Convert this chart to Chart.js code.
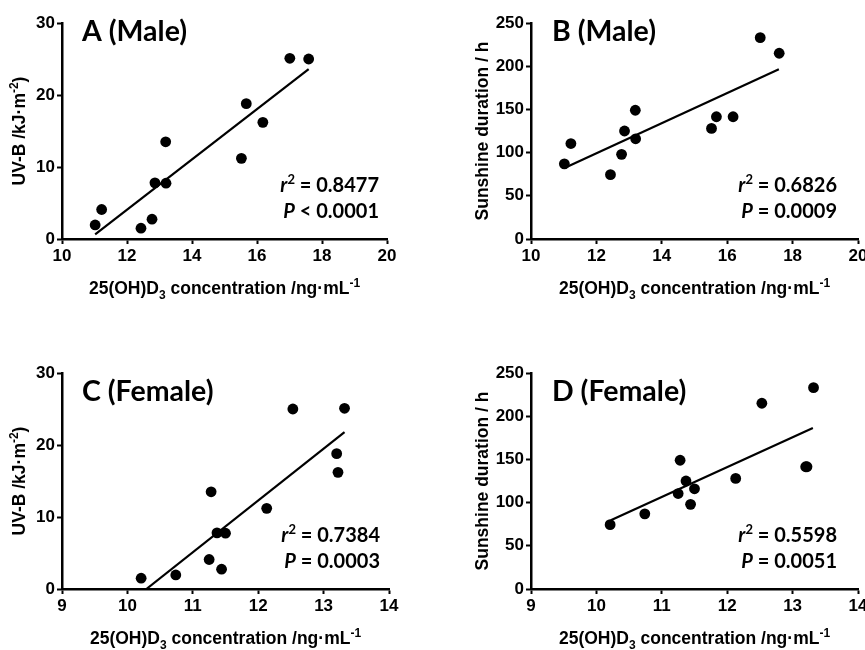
<!DOCTYPE html>
<html>
<head>
<meta charset="utf-8">
<script src="https://cdn.jsdelivr.net/npm/chart.js@4/dist/chart.umd.min.js"></script>
<style>
html,body{margin:0;padding:0;background:#fff;overflow:hidden;width:865px;height:650px}
canvas{position:absolute;display:block}
</style>
</head>
<body>
<canvas id="cA" width="432" height="325" style="left:0;top:0"></canvas>
<canvas id="cB" width="450" height="325" style="left:432px;top:0"></canvas>
<canvas id="cC" width="432" height="325" style="left:0;top:325px"></canvas>
<canvas id="cD" width="450" height="325" style="left:432px;top:325px"></canvas>
<script>
// ---------- data ----------
const maleVitD   = [11.02, 11.22, 12.43, 12.77, 12.86, 13.20, 13.19, 15.52, 15.67, 16.18, 17.01, 17.59];
const femaleVitD = [10.74, 11.25, 10.21, 11.44, 11.37, 11.50, 11.28, 12.13, 13.20, 13.22, 13.32, 12.53];
const uvbValues      = [1.95, 4.1, 1.5, 2.75, 7.8, 7.75, 13.5, 11.2, 18.8, 16.2, 25.1, 25.0];
const sunshineValues = [87, 110.5, 74.5, 98, 125, 116, 149, 128, 141.5, 141.5, 233, 215];

const fitA_x = [11.02, 17.59], fitA_y = [0.65, 23.6];
const fitB_x = [11.04, 17.58], fitB_y = [82.6, 196.5];
const fitC_x = [10.29, 13.32], fitC_y = [0, 21.8];
const fitD_x = [10.22, 13.31], fitD_y = [79.5, 186.3];

const xTicksMale   = [10, 12, 14, 16, 18, 20];
const xTicksFemale = [9, 10, 11, 12, 13, 14];
const yTicksUVB    = [0, 10, 20, 30];
const yTicksSun    = [0, 50, 100, 150, 200, 250];

const panelTitles = ['A (Male)', 'B (Male)', 'C (Female)', 'D (Female)'];
const r2Values    = ['0.8477', '0.6826', '0.7384', '0.5598'];
const pTexts      = ['< 0.0001', '= 0.0009', '= 0.0003', '= 0.0051'];

const xTitleSegs = [{t:'25(OH)D'},{t:'3',sub:true},{t:' concentration /ng\u00B7mL'},{t:'-1',sup:true}];
const yTitleUVB  = [{t:'UV-B /kJ\u00B7m'},{t:'-2',sup:true},{t:')'}];
const yTitleSun  = [{t:'Sunshine duration / h'}];

// ---------- helpers ----------
const AX_FAMILY = "'Liberation Sans', Arial, sans-serif";
const LAB_FAMILY = "Lato, 'Open Sans', sans-serif";
const TITLE_SIZE = 17.5;

function pts(xs, ys){ return xs.map((x,i)=>({x:x, y:ys[i]})); }

function segFont(s, size, family){
  const sz = (s.sub||s.sup) ? Math.round(size*0.66) : size;
  return (s.italic ? 'italic ' : '') + 'bold ' + sz + 'px ' + family;
}
function drawRich(ctx, segs, x, y, align, size, family){
  let w = 0;
  segs.forEach(s=>{ ctx.font = segFont(s,size,family); s._w = ctx.measureText(s.t).width; w += s._w; });
  let cx = align==='center' ? x - w/2 : (align==='right' ? x - w : x);
  ctx.textAlign = 'left'; ctx.textBaseline = 'alphabetic'; ctx.fillStyle = '#000';
  segs.forEach(s=>{
    ctx.font = segFont(s,size,family);
    const dy = s.sub ? size*0.28 : (s.sup ? -size*0.42 : 0);
    ctx.fillText(s.t, cx, y + dy);
    cx += s._w;
  });
}

const panelTextPlugin = {
  id: 'panelText',
  afterDraw(chart, args, o){
    const ctx = chart.ctx, ca = chart.chartArea;
    ctx.save();
    drawRich(ctx, [{t:o.title}], ca.left + o.titleDX, ca.top + o.titleDY, 'left', 28.5, LAB_FAMILY);
    drawRich(ctx, [{t:'r',italic:true},{t:'2',sup:true},{t:' = ' + o.r2}], ca.right - o.statsDX, ca.top + 169, 'right', 20, LAB_FAMILY);
    drawRich(ctx, [{t:'P',italic:true},{t:' ' + o.p}], ca.right - o.statsDX, ca.top + 195, 'right', 20, LAB_FAMILY);
    drawRich(ctx, xTitleSegs, (ca.left + ca.right)/2, ca.bottom + 55, 'center', TITLE_SIZE, AX_FAMILY);
    ctx.translate(ca.left - o.yTitleDX, (ca.top + ca.bottom)/2);
    ctx.rotate(-Math.PI/2);
    drawRich(ctx, o.yTitle, 0, 6.3, 'center', TITLE_SIZE, AX_FAMILY);
    ctx.restore();
  }
};

function makePanel(id, cfg){
  const tickFont = {family: AX_FAMILY, size: 17, weight: 'bold'};
  const gridCfg = {display:true, drawOnChartArea:false, drawTicks:true, tickLength:5, tickWidth:2, tickColor:'#000', color:'#000'};
  new Chart(document.getElementById(id), {
    type: 'scatter',
    data: {
      datasets: [
        {data: pts(cfg.xs, cfg.ys), pointRadius: 5.4, pointHoverRadius: 5.4, backgroundColor:'#000', borderColor:'#000', borderWidth:0, showLine:false, order:1},
        {type:'line', data: pts(cfg.fx, cfg.fy), borderColor:'#000', borderWidth:2.2, pointRadius:0, fill:false, showLine:true, order:2}
      ]
    },
    options: {
      responsive: false,
      animation: false,
      events: [],
      layout: {padding: {left:0, top:cfg.padTop, right:cfg.padRight, bottom:0}},
      plugins: {
        legend: {display:false},
        tooltip: {enabled:false},
        panelText: cfg.text
      },
      scales: {
        x: {
          type:'linear', min: cfg.xTicks[0], max: cfg.xTicks[cfg.xTicks.length-1],
          ticks: {stepSize: cfg.xTicks[1]-cfg.xTicks[0], font: tickFont, color:'#000', padding:2, maxRotation:0, autoSkip:false},
          grid: gridCfg,
          border: {display:true, color:'#000', width:2.5},
          afterFit(s){ s.height = cfg.xH; }
        },
        y: {
          type:'linear', min: cfg.yTicks[0], max: cfg.yTicks[cfg.yTicks.length-1],
          ticks: {stepSize: cfg.yTicks[1]-cfg.yTicks[0], font: tickFont, color:'#000', padding:2, autoSkip:false},
          grid: gridCfg,
          border: {display:true, color:'#000', width:2.5},
          afterFit(s){ s.width = cfg.yW; }
        }
      }
    },
    plugins: [panelTextPlugin]
  });
}

makePanel('cA', {xs: maleVitD, ys: uvbValues, fx: fitA_x, fy: fitA_y, xTicks: xTicksMale, yTicks: yTicksUVB,
  padTop: 23, padRight: 45, xH: 86, yW: 62,
  text: {title: panelTitles[0], titleDX: 20, titleDY: 18, r2: r2Values[0], p: pTexts[0], statsDX: 8, yTitle: yTitleUVB, yTitleDX: 43}});
makePanel('cB', {xs: maleVitD, ys: sunshineValues, fx: fitB_x, fy: fitB_y, xTicks: xTicksMale, yTicks: yTicksSun,
  padTop: 23, padRight: 24, xH: 86, yW: 99,
  text: {title: panelTitles[1], titleDX: 21, titleDY: 18, r2: r2Values[1], p: pTexts[1], statsDX: 21, yTitle: yTitleSun, yTitleDX: 49}});
makePanel('cC', {xs: femaleVitD, ys: uvbValues, fx: fitC_x, fy: fitC_y, xTicks: xTicksFemale, yTicks: yTicksUVB,
  padTop: 48, padRight: 43, xH: 61, yW: 62,
  text: {title: panelTitles[2], titleDX: 20, titleDY: 28, r2: r2Values[2], p: pTexts[2], statsDX: 9, yTitle: yTitleUVB, yTitleDX: 43}});
makePanel('cD', {xs: femaleVitD, ys: sunshineValues, fx: fitD_x, fy: fitD_y, xTicks: xTicksFemale, yTicks: yTicksSun,
  padTop: 48, padRight: 24, xH: 61, yW: 99,
  text: {title: panelTitles[3], titleDX: 21, titleDY: 28, r2: r2Values[3], p: pTexts[3], statsDX: 21, yTitle: yTitleSun, yTitleDX: 49}});
</script>
</body>
</html>
